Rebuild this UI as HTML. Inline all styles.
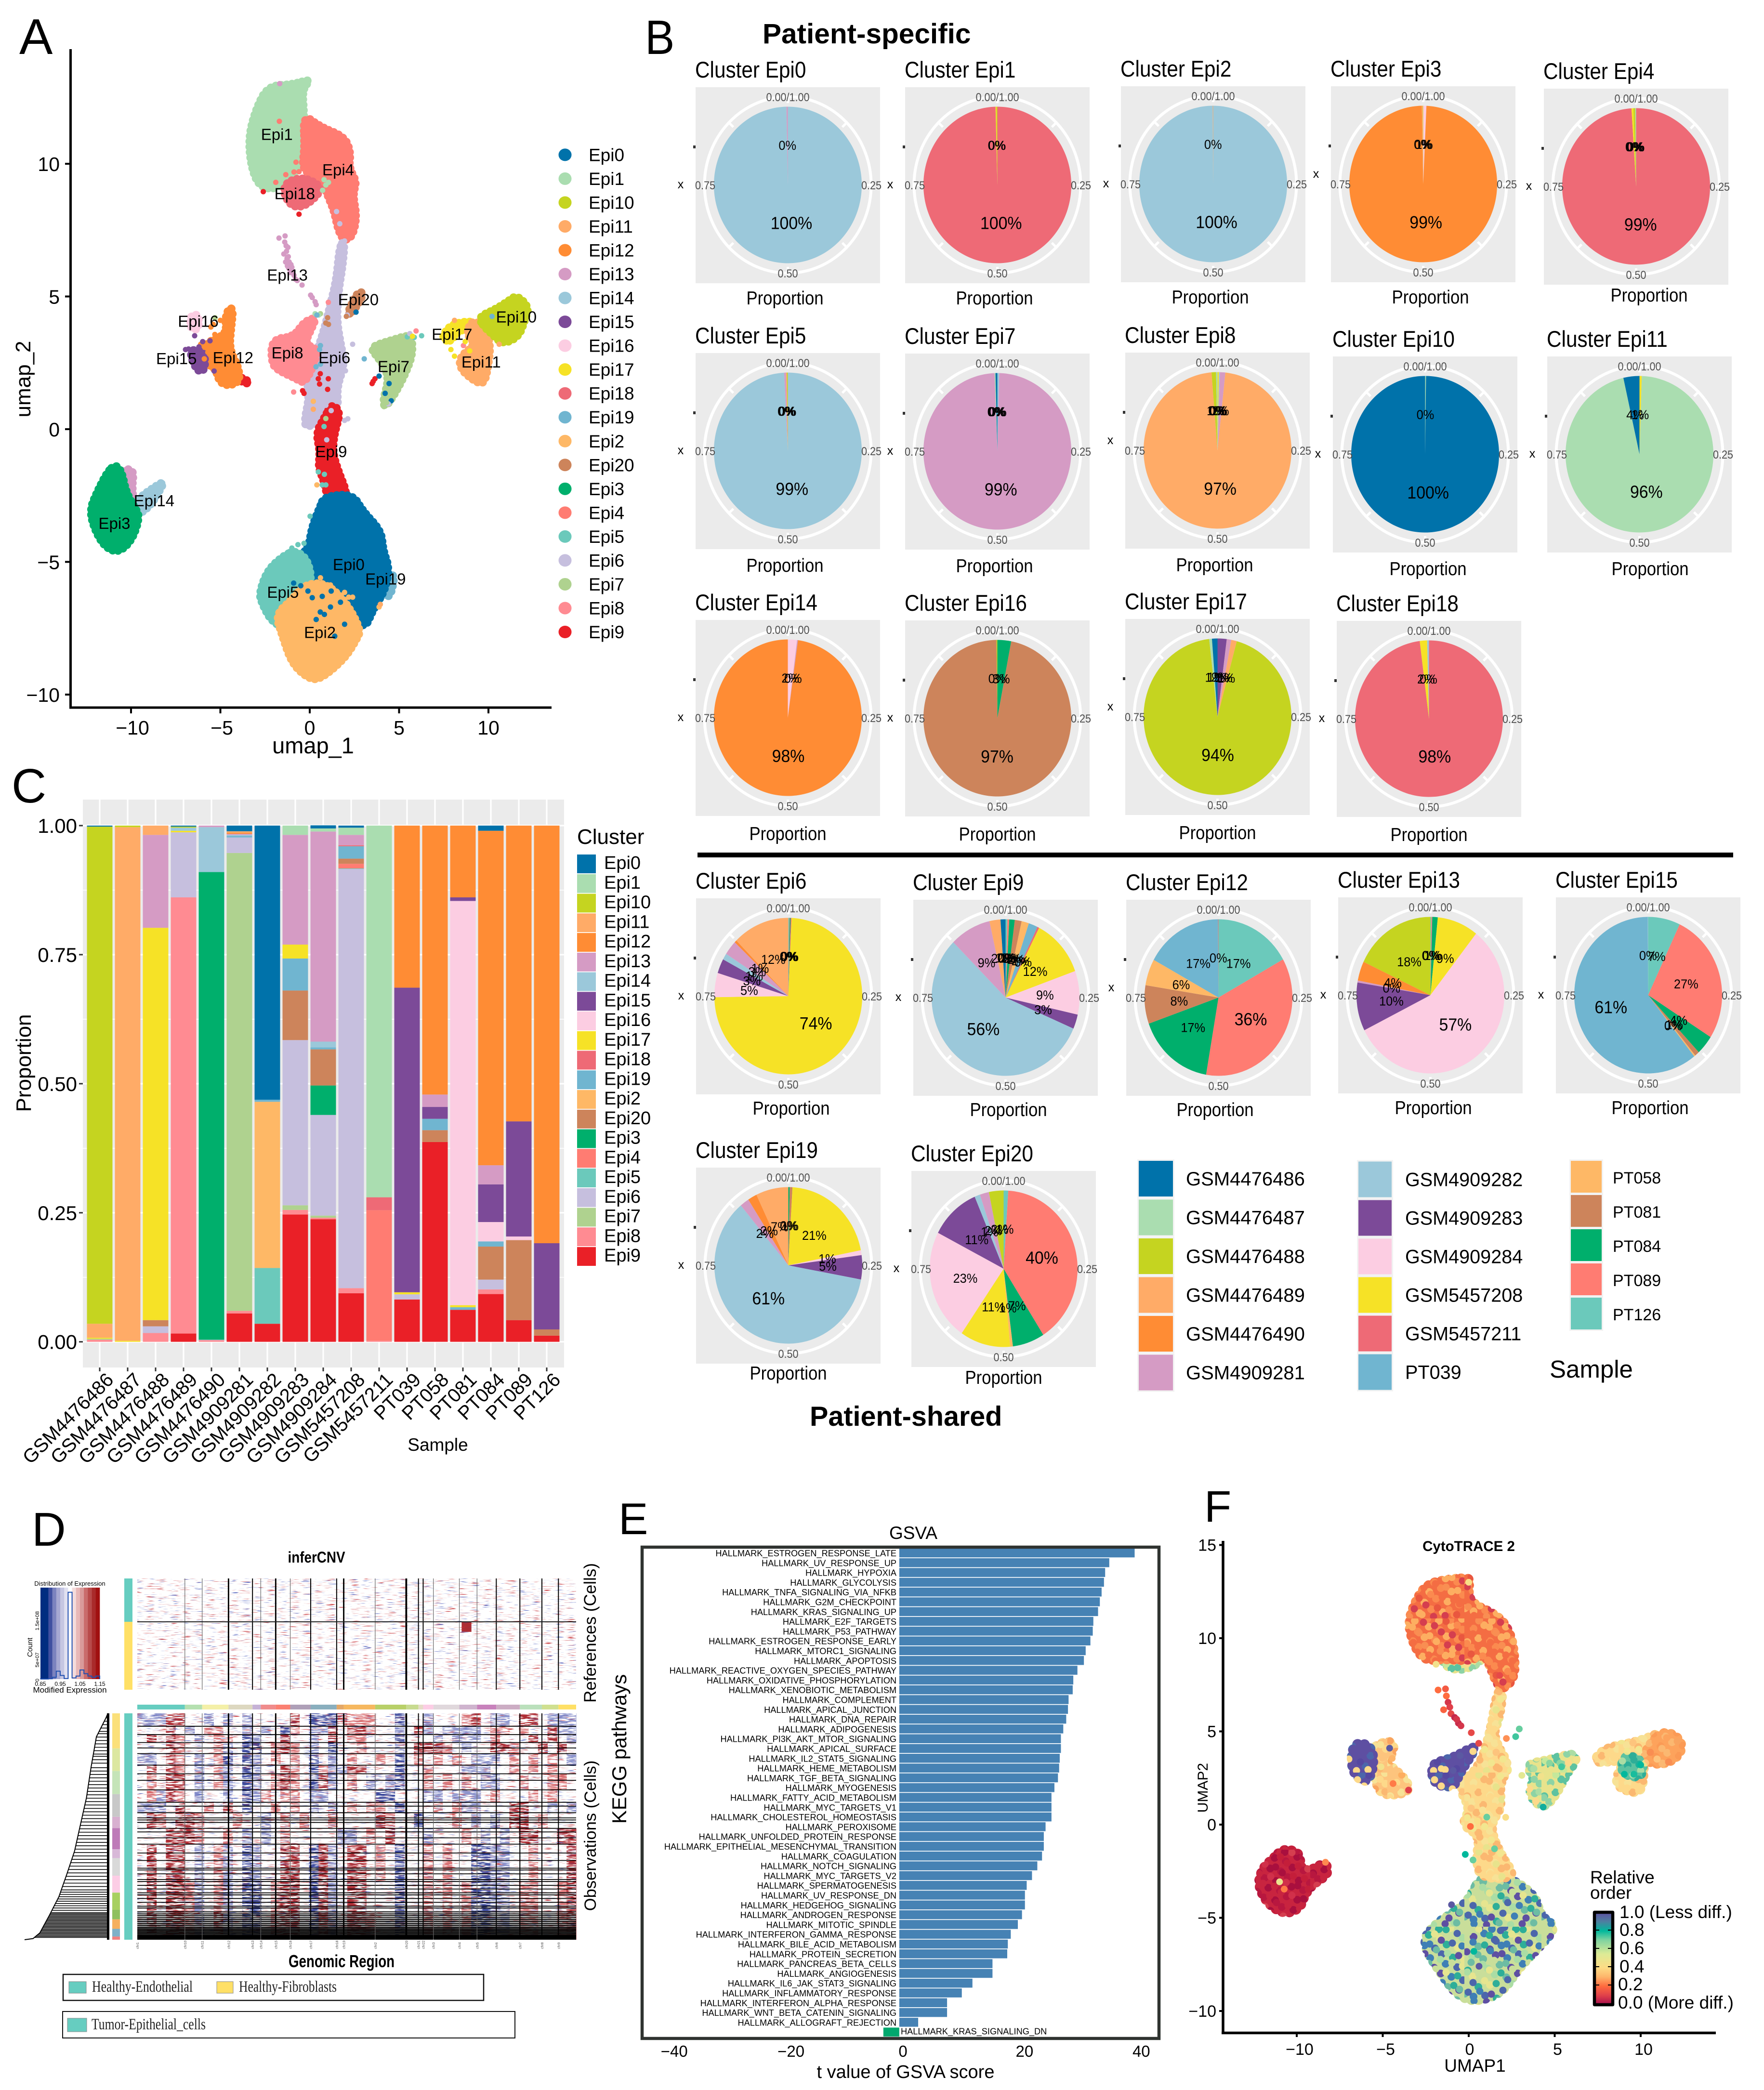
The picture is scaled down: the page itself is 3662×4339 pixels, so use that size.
<!DOCTYPE html>
<html lang="en">
<head>
<meta charset="utf-8">
<title>Single-cell epithelial figure</title>
<style>
html,body{margin:0;padding:0;background:#fff}
svg{display:block}
text{font-family:"Liberation Sans",sans-serif}
</style>
</head>
<body>
<svg id="fig" xmlns="http://www.w3.org/2000/svg" width="3662" height="4339" viewBox="0 0 3662 4339">
<defs>
<filter id="f-red" x="0" y="0" width="1" height="1" color-interpolation-filters="sRGB"><feTurbulence type="fractalNoise" baseFrequency="0.04 0.6" numOctaves="2" seed="4"/><feColorMatrix type="matrix" values="0 0 0 0 .78  0 0 0 0 .2  0 0 0 0 .22  6 0 0 0 -3.85"/></filter>
<filter id="f-blue" x="0" y="0" width="1" height="1" color-interpolation-filters="sRGB"><feTurbulence type="fractalNoise" baseFrequency="0.04 0.6" numOctaves="2" seed="19"/><feColorMatrix type="matrix" values="0 0 0 0 .25  0 0 0 0 .32  0 0 0 0 .72  6 0 0 0 -3.95"/></filter>
<filter id="f-white" x="0" y="0" width="1" height="1" color-interpolation-filters="sRGB"><feTurbulence type="fractalNoise" baseFrequency="0.05 0.45" numOctaves="2" seed="8"/><feColorMatrix type="matrix" values="0 0 0 0 1  0 0 0 0 1  0 0 0 0 1  9 0 0 0 -4.1"/></filter>
<linearGradient id="obs-dim" x1="0" y1="0" x2="0" y2="1"><stop offset="0" stop-color="#555" stop-opacity="0"/><stop offset="1" stop-color="#333" stop-opacity=".75"/></linearGradient>
<linearGradient id="spectral-bar" x1="0" y1="0" x2="0" y2="1">
<stop offset="0" stop-color="#5E4FA2"/><stop offset=".1" stop-color="#4E7FA0"/><stop offset=".2" stop-color="#00B89C"/><stop offset=".3" stop-color="#7FD3A0"/><stop offset=".45" stop-color="#DCEB96"/><stop offset=".6" stop-color="#FDDC85"/><stop offset=".7" stop-color="#FDB56B"/><stop offset=".8" stop-color="#FF6B3E"/><stop offset=".9" stop-color="#E0404A"/><stop offset="1" stop-color="#A50F4E"/>
</linearGradient>
</defs>
<rect x="0" y="0" width="3662" height="4339" fill="#ffffff"/>
<g id="panel-a"></g>
<g id="panel-b"></g>
<g id="panel-c"></g>
<g id="panel-d"></g>
<g id="panel-e"></g>
<g id="panel-f"></g>
</svg>
<script>
/* ---------- panel A data: cluster outlines and stray cells, in UMAP units ---------- */
const clusterNames = ['Epi0','Epi1','Epi10','Epi11','Epi12','Epi13','Epi14','Epi15','Epi16','Epi17','Epi18','Epi19','Epi2','Epi20','Epi3','Epi4','Epi5','Epi6','Epi7','Epi8','Epi9'];
const regionEpi1 = [[.14,13.2],[-.43,12.83],[-.32,11.9],[-.32,10.06],[-.66,9.78],[-1.45,9.4],[-1.9,9.04],[-2.81,9.13],[-3.27,9.87],[-3.42,10.98],[-3.04,12],[-2.36,12.93],[-1,12.98]];
const regionEpi4 = [[-.36,11.87],[.59,11.39],[1.95,11.02],[2.29,10.43],[2.18,9.87],[2.63,9.31],[2.4,8.85],[2.63,8.02],[2.4,7.28],[1.95,7.09],[1.61,7.46],[1.38,8.2],[1.04,8.76],[.82,9.13],[.14,9.5],[-.43,9.87],[-.27,10.6]];
const regionEpi18 = [[-1.34,9.31],[-.32,9.5],[.7,9.13],[.36,8.76],[-.32,8.39],[-1,8.39],[-1.45,8.85]];
const regionEpi6 = [[1.95,7.09],[1.84,6.17],[1.61,5.24],[1.5,4.13],[1.73,3.2],[1.95,2.46],[1.5,1.54],[1.61,.8],[.82,.43],[-.09,.06],[-.32,.24],[.02,1.35],[-.32,2.09],[.36,2.83],[.82,3.76],[1.16,4.69],[1.5,5.63],[1.68,6.91]];
const regionEpi8 = [[.36,4.22],[-.32,4.04],[-.88,3.48],[-2.13,3.39],[-2.13,2.46],[-1.68,2.19],[-.77,1.91],[-.32,1.72],[.14,2.28],[.48,3.02],[-.32,3.2],[.14,3.85]];
const regionEpi9 = [[1.27,.98],[1.72,.61],[1.38,-.13],[1.27,-.87],[1.61,-1.61],[2.06,-2.35],[1.95,-2.72],[1.04,-2.72],[.82,-1.98],[.48,-1.43],[.59,-.87],[.36,-.13],[.82,.43]];
const regionEpi9b = [[-4.4,2.09],[-3.38,1.81],[-3.45,1.69],[-4.29,1.96]];
const regionEpi0 = [[.82,-2.54],[2.4,-2.44],[2.97,-3.09],[4,-3.83],[4.1,-4.57],[4.45,-5.22],[4.22,-6.06],[3.54,-6.8],[3.08,-7.54],[2.4,-6.98],[1.72,-6.43],[.82,-5.87],[.14,-5.69],[-.77,-5.5],[-1,-4.96],[-.09,-4.57],[.14,-3.65],[.59,-2.91]];
const regionEpi5 = [[-.77,-4.57],[-.09,-4.94],[.14,-5.87],[-1,-6.61],[-1.22,-7.54],[-2.13,-7.26],[-2.7,-6.52],[-2.81,-6.15],[-2.36,-5.31],[-1.45,-4.76]];
const regionEpi2 = [[-.32,-5.87],[.82,-5.78],[1.95,-6.43],[2.86,-7.54],[2.63,-7.91],[1.95,-8.65],[.59,-9.43],[-.09,-9.39],[-1,-8.83],[-1.56,-7.72],[-1.9,-6.98],[-1,-6.43]];
const regionEpi3 = [[-10.86,-1.33],[-10.52,-1.61],[-10.29,-2.35],[-9.84,-2.91],[-9.5,-3.28],[-9.95,-4.2],[-10.75,-4.67],[-11.54,-4.39],[-12.11,-3.65],[-12.29,-3],[-11.88,-2.35],[-11.32,-1.61]];
const regionEpi13 = [[-10.52,-1.52],[-9.84,-1.52],[-9.95,-2.17],[-9.84,-2.91],[-10.25,-2.72],[-10.41,-2.06]];
const regionEpi14 = [[-9.84,-2.72],[-8.25,-1.98],[-8.19,-2.07],[-8.93,-2.91],[-9.73,-3.28]];
const regionEpi10 = [[9.43,4.22],[10.34,4.5],[11.02,4.78],[11.59,5.06],[12.27,4.59],[12.04,4.13],[11.7,3.48],[10.79,3.2],[10.23,3.57],[9.77,3.85]];
const regionEpi11 = [[9.09,4.13],[9.77,3.85],[10.11,3.2],[10,2.46],[9.77,1.69],[9.21,1.81],[8.41,2.28],[8.41,2.74],[9.32,3.2],[8.75,3.57]];
const regionEpi17 = [[7.35,3.39],[7.85,3.94],[9.09,4.09],[9.09,3.85],[8.19,3.67],[7.96,3.3]];
const regionEpi7 = [[3.42,3.11],[4.78,3.39],[5.69,3.57],[5.76,2.83],[5.35,2.09],[4.78,1.35],[4.22,.8],[4.1,1.07],[4.44,1.91],[4.1,2.46],[3.65,2.83]];
const regionEpi12 = [[-5.99,3.2],[-4.63,3.57],[-4.74,4.13],[-4.51,4.59],[-4.29,4.5],[-4.4,3.85],[-4.51,3.02],[-3.95,2.28],[-3.95,1.72],[-4.97,1.63],[-5.31,2.37],[-5.99,2.46]];
const regionEpi15 = [[-6.78,3.02],[-5.87,2.93],[-5.87,2.19],[-6.33,2.19]];
const regionEpi16 = [[-6.67,4.31],[-6.21,4.31],[-6.21,3.76],[-6.67,3.76]];
const regionEpi20 = [[2.06,4.31],[2.74,5.24],[3.02,5.06],[2.4,4.41]];
const regionEpi19 = [[3.99,-6.06],[4.78,-5.31],[4.56,-6.24],[4.22,-6.33]];
const umapRegions = [['Epi1',regionEpi1],['Epi4',regionEpi4],['Epi18',regionEpi18],['Epi13',regionEpi13],['Epi14',regionEpi14],['Epi3',regionEpi3],['Epi6',regionEpi6],['Epi8',regionEpi8],['Epi9',regionEpi9],['Epi9',regionEpi9b],['Epi19',regionEpi19],['Epi0',regionEpi0],['Epi5',regionEpi5],['Epi2',regionEpi2],['Epi7',regionEpi7],['Epi17',regionEpi17],['Epi11',regionEpi11],['Epi10',regionEpi10],['Epi12',regionEpi12],['Epi16',regionEpi16],['Epi15',regionEpi15],['Epi20',regionEpi20]];
const strayEpi13 = [[-1.72,7.2],[-1.38,7.28],[-1.32,6.91],[-1.27,6.44],[-1.18,6.07],[-.88,5.8],[-.43,5.43],[.14,4.96],[.36,4.69],[-1.68,13.02],[-1.45,6.6],[-1.05,6.2],[-.7,5.6],[-1.3,6.7],[-1.35,6.3],[-1.1,5.9],[-1.25,6.15],[.3,4.8],[-1.22,6.85],[-1.4,7.05],[-1.2,6.5],[-1,6.1],[-.95,5.95],[-.8,5.65],[.05,5.05],[-1.15,6.3]];
const strayEpi9 = [[1.04,1.9],[.48,1.9],[.59,2.09],[-.32,1.35],[-.4,1.45],[3.65,1.9],[3.49,1.72],[3.55,1.8],[.55,1.7],[1,1.5],[-2.6,8.95],[-.6,8.1]];
const strayEpi0 = [[3.88,2],[4.22,1.35],[4.44,1.72],[4.56,1.07],[2.59,4.41],[.59,-6.89],[.82,-6.98],[1.16,-6.7],[.14,-6.35],[.36,-7.17],[1.95,-7.35],[1.72,-6.52],[-.5,-5.9],[-.9,-5.8],[-.1,-6.1],[1.2,-6.1],[.7,-6.3],[1.4,-7.8]];
const strayEpi5 = [[5.46,3.48],[5.85,3.46],[6.26,3.52],[.82,-1.7],[.48,-1.61],[.02,-3.28],[-1,-4.48],[-.66,-4.35],[-.32,-4.3],[.9,-2.1],[.7,-2.1],[.8,.1],[-.4,-5.6],[-.1,-5.5]];
const strayEpi2 = [[1.16,-5.87],[2.18,-6.33],[2.4,-6.33],[1.95,-6.15],[3.88,-6.7],[2.6,-7.2],[.2,1.05],[.4,-2.1],[.1,-5.9],[.6,-5.6]];
const strayEpi6 = [[1.95,.33],[2.13,.39],[1.5,8.2],[1.68,7.74],[1.95,7.09],[1.75,6.2],[2.4,3.2],[2,2.2],[4.4,.95],[5.6,3.6],[.9,.9],[1.2,.7],[.95,-.4],[2.1,4.3]];
const strayEpi8 = [[1.04,4.78],[-.9,1.4],[-.6,2.05],[5.95,3.7],[8.6,3.15]];
const strayEpi4 = [[-.77,10.06],[-.88,9.69],[-1.34,9.59],[-.6,9.7],[-1.9,9.3],[-1.7,11.6],[2.3,9.1]];
const strayEpi12 = [[-5.53,3.85],[-5.31,3.57],[-5.08,3.2],[-4.63,3.39],[-5.53,3.3],[-6.1,3.2],[-5.42,2.28],[-5.7,2.9],[-5.9,2.65],[-5,4.1],[-5.4,3.95],[-5.1,2.95]];
const strayEpi15 = [[-6.44,3.52],[-5.58,3.33],[-5.99,3.3],[-5.35,2.19],[-6.78,3.02],[-6.95,3],[-6.2,3.1]];
const strayEpi7 = [[.6,4.35],[-5.3,4.2],[.9,.4],[4.3,1.0],[4.15,.85]];
const strayEpi1 = [[.9,9.2],[.8,9.4],[1.05,9.3],[.5,4.3],[.3,4.35],[.72,9.0]];
const strayEpi19 = [[.4,4.3],[.55,3],[.6,2.45],[.35,2.35],[3.05,2.65],[.6,3.15],[10.2,4.25]];
const strayEpi17 = [[8.1,2.75],[7.9,3],[8.95,2.95],[8.7,3.3],[5.75,3.5]];
const strayEpi11 = [[.2,.75],[8.1,4.1],[3.95,-6.6],[10.6,3.2]];
const strayEpi20 = [[1,4.2],[.9,4],[1.05,3.95],[2.05,4.25]];
const umapStrays = [['Epi13',strayEpi13],['Epi4',strayEpi4],['Epi9',strayEpi9],['Epi0',strayEpi0],['Epi5',strayEpi5],['Epi2',strayEpi2],['Epi6',strayEpi6],['Epi8',strayEpi8],['Epi12',strayEpi12],['Epi15',strayEpi15],['Epi7',strayEpi7],['Epi1',strayEpi1],['Epi19',strayEpi19],['Epi17',strayEpi17],['Epi11',strayEpi11],['Epi20',strayEpi20]];
const labelNames = ['Epi1','Epi4','Epi18','Epi13','Epi20','Epi16','Epi15','Epi12','Epi8','Epi6','Epi7','Epi17','Epi11','Epi10','Epi9','Epi14','Epi3','Epi0','Epi19','Epi5','Epi2'];
const labelX = [-1.84,1.59,-.84,-1.25,2.72,-6.24,-7.46,-4.29,-1.25,1.38,4.69,7.96,9.59,11.56,1.2,-8.71,-10.93,2.18,4.24,-1.5,.57];
const labelY = [11.1,9.76,8.87,5.8,4.87,4.06,2.65,2.69,2.87,2.69,2.35,3.57,2.52,4.22,-.85,-2.7,-3.56,-5.11,-5.65,-6.15,-7.67];
const umapXTicks = [-10,-5,0,5,10];
const umapYTicks = [10,5,0,-5,-10];

/* ---------- panel B data: share of each cluster per sample ---------- */
const sampleNames = ['GSM4476486','GSM4476487','GSM4476488','GSM4476489','GSM4476490','GSM4909281','GSM4909282','GSM4909283','GSM4909284','GSM5457208','GSM5457211','PT039','PT058','PT081','PT084','PT089','PT126'];
const pieEpi0 = [['GSM4909282',.997],['GSM4909281',.003]];
const pieEpi1 = [['GSM5457211',.996],['GSM5457208',.002],['GSM4476488',.002]];
const pieEpi2 = [['GSM4909282',.999],['GSM4476489',.001]];
const pieEpi3 = [['GSM4909284',.007],['GSM4476490',.99],['GSM4476489',.002],['GSM4476488',.001]];
const pieEpi4 = [['GSM5457211',.99],['GSM5457208',.004],['GSM4476488',.004],['GSM4476487',.002]];
const pieEpi5 = [['GSM4909282',.992],['GSM4909281',.004],['GSM4476489',.002],['GSM4476488',.002]];
const pieEpi7 = [['GSM4909282',.004],['GSM4909281',.99],['GSM4476487',.002],['GSM4476486',.004]];
const pieEpi8 = [['GSM5457208',.003],['GSM4909282',.002],['GSM4909281',.012],['GSM4476489',.97],['GSM4476488',.01],['GSM4476487',.003]];
const pieEpi10 = [['GSM4476487',.002],['GSM4476486',.998]];
const pieEpi11 = [['GSM5457208',.005],['GSM4476487',.96],['GSM4476486',.035]];
const pieEpi14 = [['GSM4909284',.02],['GSM4909281',.002],['GSM4476490',.978]];
const pieEpi16 = [['PT084',.03],['PT081',.968],['GSM4476488',.002]];
const pieEpi17 = [['GSM4909283',.02],['GSM4909281',.01],['GSM4476489',.012],['GSM4476488',.94],['GSM4476487',.006],['GSM4476486',.012]];
const pieEpi18 = [['GSM5457211',.98],['GSM5457208',.016],['GSM4909282',.004]];
const pieEpi6 = [['PT089',.001],['GSM5457211',.002],['PT126',.002],['PT084',.002],['GSM5457208',.74],['GSM4909284',.05],['GSM4909283',.03],['GSM4909282',.013],['GSM4909281',.03],['GSM4476490',.005],['GSM4476489',.124]];
const pieEpi9 = [['PT126',.004],['PT089',.004],['PT084',.012],['PT081',.015],['PT058',.016],['PT039',.02],['GSM5457211',.004],['GSM5457208',.12],['GSM4909284',.09],['GSM4909283',.03],['GSM4909282',.56],['GSM4909281',.09],['GSM4476489',.024],['GSM4476486',.011]];
const pieEpi12 = [['PT126',.17],['PT089',.36],['PT084',.17],['PT081',.08],['PT058',.055],['PT039',.17],['GSM5457211',.001]];
const pieEpi13 = [['PT126',.002],['PT089',.002],['PT084',.012],['GSM5457208',.09],['GSM4909284',.57],['GSM4909283',.10],['GSM4909281',.004],['GSM4476490',.04],['GSM4476488',.18]];
const pieEpi15 = [['PT126',.07],['PT089',.27],['PT084',.04],['PT081',.01],['PT058',.003],['PT039',.606],['GSM4909282',.001]];
const pieEpi19 = [['PT081',.006],['PT084',.003],['GSM5457208',.21],['GSM4909284',.01],['GSM4909283',.05],['GSM4909282',.61],['GSM4909281',.02],['GSM4476490',.02],['GSM4476489',.071]];
const pieEpi20 = [['PT126',.01],['PT089',.40],['PT084',.07],['PT058',.006],['GSM5457208',.11],['GSM4909284',.23],['GSM4909283',.11],['GSM4909282',.012],['GSM4909281',.02],['GSM4476488',.032]];

/* ---------- panel C data: cluster share inside each sample ---------- */
const barGSM4476486 = [['Epi0',.002],['Epi10',.963],['Epi11',.027],['Epi17',.002],['Epi7',.002],['Epi8',.004]];
const barGSM4476487 = [['Epi10',.003],['Epi11',.995],['Epi17',.002]];
const barGSM4476488 = [['Epi11',.018],['Epi13',.18],['Epi17',.76],['Epi20',.012],['Epi6',.013],['Epi8',.017]];
const barGSM4476489 = [['Epi0',.002],['Epi10',.002],['Epi17',.003],['Epi14',.006],['Epi6',.126],['Epi8',.845],['Epi9',.016]];
const barGSM4476490 = [['Epi13',.003],['Epi14',.087],['Epi3',.906],['Epi6',.001],['Epi8',.003]];
const barGSM4909281 = [['Epi0',.011],['Epi11',.003],['Epi13',.002],['Epi14',.002],['Epi12',.002],['Epi19',.003],['Epi6',.03],['Epi7',.887],['Epi8',.005],['Epi9',.055]];
const barGSM4909282 = [['Epi0',.531],['Epi19',.004],['Epi2',.322],['Epi5',.108],['Epi9',.035]];
const barGSM4909283 = [['Epi1',.018],['Epi13',.2125],['Epi17',.027],['Epi19',.062],['Epi20',.096],['Epi6',.32],['Epi7',.009],['Epi8',.009],['Epi9',.2465]];
const barGSM4909284 = [['Epi0',.006],['Epi1',.006],['Epi13',.407],['Epi14',.011],['Epi19',.004],['Epi20',.07],['Epi3',.057],['Epi6',.195],['Epi7',.004],['Epi8',.003],['Epi9',.2375]];
const barGSM5457208 = [['Epi0',.004],['Epi1',.014],['Epi13',.02],['Epi18',.002],['Epi19',.024],['Epi20',.01],['Epi4',.009],['Epi5',.001],['Epi6',.812],['Epi8',.01],['Epi9',.094]];
const barGSM5457211 = [['Epi1',.72],['Epi18',.025],['Epi4',.253],['Epi8',.002]];
const barPT039 = [['Epi12',.314],['Epi15',.59],['Epi17',.004],['Epi6',.01],['Epi9',.082]];
const barPT058 = [['Epi12',.521],['Epi13',.024],['Epi15',.023],['Epi19',.022],['Epi20',.023],['Epi9',.387]];
const barPT081 = [['Epi12',.139],['Epi15',.007],['Epi16',.783],['Epi17',.004],['Epi19',.005],['Epi9',.062]];
const barPT084 = [['Epi0',.01],['Epi12',.648],['Epi13',.037],['Epi15',.073],['Epi16',.0375],['Epi19',.01],['Epi20',.064],['Epi6',.019],['Epi8',.009],['Epi9',.0925]];
const barPT089 = [['Epi12',.573],['Epi15',.223],['Epi16',.007],['Epi20',.155],['Epi9',.042]];
const barPT126 = [['Epi12',.809],['Epi15',.167],['Epi20',.012],['Epi9',.012]];
const barRows = [barGSM4476486,barGSM4476487,barGSM4476488,barGSM4476489,barGSM4476490,barGSM4909281,barGSM4909282,barGSM4909283,barGSM4909284,barGSM5457208,barGSM5457211,barPT039,barPT058,barPT081,barPT084,barPT089,barPT126];
const proportionTicks = [0,.25,.5,.75,1];

/* ---------- panel D data: inferCNV ---------- */
const chrNames = ['chr1','chr10','chr11','chr12','chr13','chr14','chr15','chr16','chr17','chr18','chr19','chr2','chr20','chr21','chr22','chr3','chr4','chr5','chr6','chr7','chr8','chr9'];
const chrLengths = [121,44,67,61,21,38,37,52,66,18,80,79,31,12,26,66,45,49,60,56,42,45];
const chrLineWeights = [1,1,3,2,1,3,1,2,2,3,1,4,2,2,1,1,1,2,2,2,2];
const obsBandTops = [0,.057,.094,.129,.178,.229,.267,.338,.393,.439,.508,.578,.743,.877];
const obsBands = [
 'bbbRR..b.b.b....R.BBBRrrr..B..b...rR.bb.RR.bbb',
 '...R.b.rr..b.b.Br.bbR.RRr..b.Rb.bbbb.rr.r..Rbb',
 '.R.Rr.b.rr.Bb..R..b.R.rr...B...b.bbb.r...R.R.b',
 '...Rr...rb.BB.rRr.b.B..r...b.RRRr.b..RRr..R.R.',
 'bb.Rr.b.rB.Bb.r.r.B.b.r..r.B.r.r.r.bbb.r.r.r.b',
 '.R.Rr.b.rb.Bb..Rr.BrbbRR...B..r...bbb..r.r.r..',
 '.r.RR.b.rb.Bb.rRr.BRb.r.b.bB..r.r.r.bb..r..rr.',
 '.rbRr.b..b.Bbr.rr.bb.....BB...bb.bbb.r...r.r..',
 'bbb.R..r.R.B..r.r.b.b.r.rr.B...r.rbb...RR..b.b',
 '.Rr.RRr...r..b.r.r..r....Rr..B...r.b.b.RR.r...',
 '...RRRr..r.b.b.r.....bb.r.R...b...r.b.b.RR..RR',
 '.R.RR.b.rb.Bb..RR.BRb.RR.r.B..r.r..BBbb..r...R',
 '.R.RRrb.rb.BB.rRR.BRb.RR...B..r.r.rBBbb.rr..rR',
 '.R.RRrb.Rb.BB.rRR.BRb.RRr..B..r.r.rBBbb.rr..rR'
];
const refBandTops = [0,.39,.48];
const refBands = [
 '..............................................',
 '..................................R...........',
 '..............................................'
];
const obsBreaks = [.057,.094,.129,.153,.178,.229,.267,.296,.338,.393,.41,.439,.462,.471,.482,.508,.524,.55,.578,.617,.65,.684,.692,.709,.734,.743,.76,.776,.793,.802,.818,.835,.852,.86,.877,.886,.894,.903,.911,.919,.928,.936,.945,.95,.955,.96,.965,.97,.975,.98];
const obsClassEnds = [.155,.255,.357,.457,.507,.6,.64,.717,.792,.868,.91,.952,.986,1];
const dendroCurveFrac = [0,.02,.104,.239,.373,.49,.608,.709,.81,.894,.97,.995,1];
const dendroCurveDepth = [.983,.96,.847,.784,.73,.66,.59,.5,.405,.29,.18,.1,0];
const dendroRows = [.01,.02,.035,.05,.065,.08,.09,.105,.12,.135,.15,.165,.18,.19,.205,.22,.24,.255,.27,.285,.3,.315,.33,.345,.36,.375,.39,.405,.42,.435,.45,.465,.48,.495,.51,.525,.54,.555,.57,.585,.6,.615,.63,.645,.66,.675,.69,.705,.72,.735,.75,.765,.78,.79,.8,.81,.82,.83,.84,.85,.86,.87,.88,.885,.89,.895,.9,.905,.91,.915,.92,.925,.93,.935,.94,.945,.95,.955,.96,.965,.97,.975,.98,.985,.99];
const histCounts = [.02,.02,.06,.3,1.3,.6,.1,14.2,.2,.5,1.5,.9,.5,.3,.5];

/* ---------- panel E data: GSVA t values ---------- */
const gsvaPathways = ['HALLMARK_ESTROGEN_RESPONSE_LATE','HALLMARK_UV_RESPONSE_UP','HALLMARK_HYPOXIA','HALLMARK_GLYCOLYSIS','HALLMARK_TNFA_SIGNALING_VIA_NFKB','HALLMARK_G2M_CHECKPOINT','HALLMARK_KRAS_SIGNALING_UP','HALLMARK_E2F_TARGETS','HALLMARK_P53_PATHWAY','HALLMARK_ESTROGEN_RESPONSE_EARLY','HALLMARK_MTORC1_SIGNALING','HALLMARK_APOPTOSIS','HALLMARK_REACTIVE_OXYGEN_SPECIES_PATHWAY','HALLMARK_OXIDATIVE_PHOSPHORYLATION','HALLMARK_XENOBIOTIC_METABOLISM','HALLMARK_COMPLEMENT','HALLMARK_APICAL_JUNCTION','HALLMARK_DNA_REPAIR','HALLMARK_ADIPOGENESIS','HALLMARK_PI3K_AKT_MTOR_SIGNALING','HALLMARK_APICAL_SURFACE','HALLMARK_IL2_STAT5_SIGNALING','HALLMARK_HEME_METABOLISM','HALLMARK_TGF_BETA_SIGNALING','HALLMARK_MYOGENESIS','HALLMARK_FATTY_ACID_METABOLISM','HALLMARK_MYC_TARGETS_V1','HALLMARK_CHOLESTEROL_HOMEOSTASIS','HALLMARK_PEROXISOME','HALLMARK_UNFOLDED_PROTEIN_RESPONSE','HALLMARK_EPITHELIAL_MESENCHYMAL_TRANSITION','HALLMARK_COAGULATION','HALLMARK_NOTCH_SIGNALING','HALLMARK_MYC_TARGETS_V2','HALLMARK_SPERMATOGENESIS','HALLMARK_UV_RESPONSE_DN','HALLMARK_HEDGEHOG_SIGNALING','HALLMARK_ANDROGEN_RESPONSE','HALLMARK_MITOTIC_SPINDLE','HALLMARK_INTERFERON_GAMMA_RESPONSE','HALLMARK_BILE_ACID_METABOLISM','HALLMARK_PROTEIN_SECRETION','HALLMARK_PANCREAS_BETA_CELLS','HALLMARK_ANGIOGENESIS','HALLMARK_IL6_JAK_STAT3_SIGNALING','HALLMARK_INFLAMMATORY_RESPONSE','HALLMARK_INTERFERON_ALPHA_RESPONSE','HALLMARK_WNT_BETA_CATENIN_SIGNALING','HALLMARK_ALLOGRAFT_REJECTION','HALLMARK_KRAS_SIGNALING_DN'];
const gsvaValues = [39.9,35.6,34.9,34.7,34.3,34,33.7,32.9,32.8,32.4,31.6,31.3,30.2,29.5,29.4,28.7,28.6,28.3,27.8,27.4,27.4,27.2,27.1,26.9,26.3,25.8,25.8,25.8,24.8,24.5,24.5,24.2,23.4,22.5,21.6,21.3,21.3,20.8,20.1,18.9,18.4,18.3,15.8,15.8,12.4,10.6,8.1,8.1,3.2,-2.7];
const gsvaTicks = [-40,-20,0,20,40];

/* ---------- panel F data: CytoTRACE zones (UMAP units) and individually visible cells ---------- */
const zoneTop = [[.15,13.21],[-.06,12.8],[.04,11.88],[1.76,11.17],[2.4,10.25],[2.62,9.22],[2.66,8],[2.08,7.28],[1.65,7.59],[1.33,8.4],[.9,9.22],[.04,8.81],[-1.46,8.92],[-2.53,8.81],[-3.18,9.63],[-3.5,10.86],[-3.07,11.98],[-2.42,12.9],[-1.03,13.15]];
const zonePatch = [[-1.46,9.02],[.9,9.12],[.47,8.61],[-.6,8.3],[-1.46,8.61]];
const zoneStalk = [[1.97,7.28],[1.76,5.75],[1.33,4.72],[2.4,3.09],[1.76,2.27],[1.87,.84],[1.33,.22],[1.33,-.59],[1.97,-1.82],[2.73,-2.84],[.69,-2.84],[.47,-1.82],[.69,-.59],[-.39,.02],[.15,.84],[-.6,2.07],[.69,3.09],[1.33,5.13],[1.65,6.97]];
const zonePurple = [[-2.1,3.29],[-1.03,3.5],[.36,4.21],[.26,3.91],[-.6,2.68],[-.82,2.07],[-1.67,2.07],[-2.1,2.47]];
const zonePurpleLeft = [[-6.72,4.42],[-5.64,4.21],[-5.54,3.09],[-5.97,2.17],[-6.82,2.88]];
const zoneLeftWarm = [[-5.54,4.21],[-4.36,4.52],[-4.46,3.7],[-5.11,3.5],[-3.82,2.58],[-3.35,1.76],[-5,1.55],[-5.43,2.37],[-5.54,3.5]];
const zoneDeepRed = [[-10.79,-1.31],[-9.83,-1.51],[-9.83,-2.33],[-9.29,-2.54],[-8.33,-2.02],[-8.15,-2.64],[-9.18,-3.25],[-9.61,-3.87],[-9.83,-4.48],[-10.69,-4.79],[-11.65,-4.27],[-12.25,-3.25],[-11.97,-2.33],[-11.33,-1.82]];
const zoneBottom = [[.69,-2.84],[2.4,-2.84],[3.9,-3.87],[4.12,-4.89],[5.09,-5.5],[4.12,-6.52],[2.83,-7.75],[1.97,-8.98],[.47,-9.49],[-.6,-9.18],[-1.46,-8.16],[-2.75,-6.32],[-1.89,-5.3],[-.39,-4.48],[.26,-3.66]];
const zoneEpi7 = [[3.26,3.19],[4.98,3.5],[6.05,3.8],[6.27,3.5],[5.62,2.68],[5.09,1.66],[4.33,.84],[3.48,1.66],[3.91,2.58]];
const zoneEpi11 = [[7.23,3.39],[7.98,4.11],[9.91,4.42],[11.42,5.03],[10.13,3.5],[10.13,2.07],[9.7,1.66],[8.41,2.17],[9.16,3.5],[7.98,3.39]];
const zoneEpi10 = [[11.42,5.03],[12.38,4.52],[12.27,3.7],[11.2,3.19],[10.13,3.5],[10.6,4.4]];
const zoneTealCore = [[9.05,3.75],[10.13,3.4],[10.03,2.5],[8.85,2.78]];
const cellX = [-1.78,-1.35,-1.2,-1.03,-.6,.15,.58,-1.46,-.82,2.94,2.73,2.19,2.15,3.09,6.27,4.33,-11,-10.73,-8.33,0,-1.9,1.8,-1.3,-1.1,-.7,-.45,-4.4,-4.6,-3.5,-1.6,-.5,-.9,9.05,9.6,10,.1,1.05,.5,1.5,-.2,.25,-1,.3,.6,4.7,5.3,5.4,4.2,-5.1,-4.45];
const cellY = [7.22,7.28,6.56,5.95,5.44,4.93,4.36,6.16,5.75,5.13,4.72,4.62,.39,2.64,3.5,.94,-3.07,-3.46,-2.02,13,8.6,8,6.9,6.3,5.65,5.3,2.2,4.1,1.85,3,3.7,2.9,2.7,2.7,3.2,-.1,.4,.2,-1.3,-1.6,-1.9,-4.3,-6.8,-7.6,3.3,3.3,3.1,2.6,3.1,3.55];
const cellOrder = [.2,.16,.08,.12,.06,.12,.12,.18,.05,.72,.75,.25,.42,.52,.45,.82,.48,.22,.24,.42,.45,.12,.2,.1,.08,.08,.22,.98,.1,.4,.98,.98,.8,.78,.8,.2,.72,.42,.72,.8,.72,.98,.8,.98,.68,.68,.75,.45,.45,.3];
const textureDots = [[8,12],[30,5],[52,18],[75,8],[98,15],[122,6],[145,14],[18,32],[42,38],[66,30],[88,36],[112,28],[135,34],[155,40],[5,52],[28,58],[54,50],[78,56],[102,48],[125,55],[148,60],[14,74],[38,78],[62,70],[86,76],[110,68],[134,75],[156,82],[6,94],[30,98],[52,90],[76,96],[100,88],[122,95],[146,102],[18,116],[42,112],[66,118],[90,110],[114,116],[138,122],[8,136],[32,134],[56,140],[80,132],[104,138],[128,142],[150,130],[20,154],[46,156],[72,152],[96,156],[120,154],[144,152]];

/* ---------- styles ---------- */
const clusterColors = {Epi0:'#0072AA',Epi1:'#AADDB0',Epi10:'#C5D420',Epi11:'#FFAB67',Epi12:'#FF8C34',Epi13:'#D59BC4',Epi14:'#9BC8DA',Epi15:'#7C4A98',Epi16:'#FCCDE2',Epi17:'#F6E226',Epi18:'#EE6A76',Epi19:'#70B5D0',Epi2:'#FEB866',Epi20:'#CD845B',Epi3:'#00AF6C',Epi4:'#FF7C72',Epi5:'#6BC9BB',Epi6:'#C6BFDE',Epi7:'#AFD28F',Epi8:'#FF8B92',Epi9:'#EA2027'};
const sampleColors = {GSM4476486:'#0072AA',GSM4476487:'#AADDB0',GSM4476488:'#C5D420',GSM4476489:'#FFAB67',GSM4476490:'#FF8C34',GSM4909281:'#D59BC4',GSM4909282:'#9BC8DA',GSM4909283:'#7C4A98',GSM4909284:'#FCCDE2',GSM5457208:'#F6E226',GSM5457211:'#EE6A76',PT039:'#70B5D0',PT058:'#FEB866',PT081:'#CD845B',PT084:'#00AF6C',PT089:'#FF7C72',PT126:'#6BC9BB'};
const chrColors = ['#66CDC0','#B5E0B0','#F4F0A8','#DDD8C0','#C6B2D6','#F08C8C','#FB8072','#AFA0B8','#8AAFBE','#E4A868','#F6B860','#B8D068','#C8DB90','#E6DCC8','#FCCDE5','#E0D8DC','#CFB4CE','#C882BC','#CCADC4','#BBE0BC','#D0E090','#FFE066'];
const obsClassColors = ['#FBE07A','#DCE7A0','#C5E4B8','#C8C8C8','#D8B0D0','#BE7BB8','#D8B8D8','#D9D9D9','#FCCDE5','#A8D060','#8FC060','#F5B060','#7FB0C8','#F08080'];
const histColors = ['#002D80','#002D80','#3F4FA0','#7B82BE','#A6A8D2','#C5C6E2','#E0E0F0','#FFFFFF','#F4DCDC','#E8B8B8','#D99A9A','#C96B6B','#B84A4A','#A92A2A','#A01010'];
const cnvColors = {r:'#D8696B',R:'#A01018',b:'#7E86C6',B:'#24338F'};
const palettes = {
 top:['#F46D43','#FB8A4F','#E9573F','#D53E4F','#FDAE61','#F98E52'],
 deep:['#C8243F','#B8173F','#D53E4F','#C41E3A','#A90F3E','#D1304A'],
 yellow:['#FDD98A','#F7E296','#FDC47D','#F2E68F','#FBB871','#E8E38C'],
 mix:['#C9DE9A','#5E4FA2','#2EAE98','#ABDDA4','#3F7FB5','#E6E58F','#6DBCA3','#4C66AB'],
 green:['#E8E38C','#8DD3A5','#ABDDA4','#FDD98A','#5DC2A0','#C5E89A'],
 purple:['#5E4FA2','#5E4FA2','#5648A0','#FDD98A','#4C66AB','#5E4FA2'],
 warm:['#FDC47D','#FDD98A','#FBB871','#F9A45F','#F7E296','#FDAE61'],
 orange:['#FDA35C','#FBB871','#F98E52','#FDC47D','#FB9A55','#F9A45F'],
 teal:['#5DC2A0','#1FB099','#8DD3A5','#E8E38C','#2EAE98','#ABDDA4']
};
const fZones = [[zoneDeepRed,'deep'],[zoneBottom,'mix'],[zoneStalk,'yellow'],[zonePatch,'green'],[zoneTop,'top'],[zoneLeftWarm,'warm'],[zonePurpleLeft,'purple'],[zonePurple,'purple'],[zoneEpi7,'green'],[zoneEpi11,'yellow'],[zoneEpi10,'orange'],[zoneTealCore,'teal']];

/* ---------- helpers ---------- */
const NS = 'http://www.w3.org/2000/svg';
function make(parent, tag, attrs) {
  const e = document.createElementNS(NS, tag);
  for (const k in attrs) e.setAttribute(k, attrs[k]);
  parent.appendChild(e);
  return e;
}
function text(parent, str, x, y, size, name, o) {
  o = o || {};
  const t = make(parent, 'text', {x:0, y:0, 'font-size':size, fill:o.fill || '#000', 'text-anchor':o.anchor || 'start'});
  if (o.weight) t.setAttribute('font-weight', o.weight);
  if (o.family) t.setAttribute('style', 'font-family:' + o.family);
  if (o.len) { t.setAttribute('textLength', o.len); t.setAttribute('lengthAdjust', 'spacingAndGlyphs'); }
  t.setAttribute('transform', 'translate(' + x + ' ' + y + ') rotate(' + (o.rot || 0) + ') scale(' + (o.sx || 1) + ' 1)');
  t.textContent = str;
  
  
  return t;
}
function box(parent, x, y, w, h, fill, name) {
  const r = make(parent, 'rect', {x:x, y:y, width:w, height:h, fill:fill});
  
  
  return r;
}
function line(parent, x1, y1, x2, y2, stroke, width, name) {
  const l = make(parent, 'line', {x1:x1, y1:y1, x2:x2, y2:y2, stroke:stroke, 'stroke-width':width});
  
  
  return l;
}
/* closed smooth outline through the midpoints of an outline's edges */
function blobPath(points, fxs, fys) {
  const pts = points.map(function (p) { return [fxs(p[0]), fys(p[1])]; });
  const n = pts.length;
  function mid(i) { const a = pts[i % n], b = pts[(i + 1) % n]; return [(a[0] + b[0]) / 2, (a[1] + b[1]) / 2]; }
  let d = 'M' + mid(n - 1).join(' ');
  for (let i = 0; i < n; i++) {
    const m = mid(i);
    d += 'Q' + pts[i][0] + ' ' + pts[i][1] + ' ' + m[0] + ' ' + m[1];
  }
  return d + 'Z';
}
function blob(parent, points, fxs, fys, paint, bump, name) {
  const d = blobPath(points, fxs, fys);
  const solid = make(parent, 'path', {d:d, fill:paint, stroke:paint, 'stroke-width':bump * .75, 'stroke-linejoin':'round'});
  
  
  const edge = make(parent, 'path', {d:d, fill:'none', stroke:paint, 'stroke-width':bump * 1.25, 'stroke-linecap':'round', 'stroke-dasharray':'0 ' + bump * .8});
  
  
}
const panelA = document.getElementById('panel-a');
const panelB = document.getElementById('panel-b');
const panelC = document.getElementById('panel-c');
const panelD = document.getElementById('panel-d');
const panelE = document.getElementById('panel-e');
const panelF = document.getElementById('panel-f');
const MINUS = '\u2212';
function signed(v) { return v < 0 ? MINUS + Math.abs(v) : String(v); }

/* ---------- texture patterns ---------- */
const defsEl = document.querySelector('defs');
Object.keys(palettes).forEach(function (key) {
  const pal = palettes[key];
  const p = make(defsEl, 'pattern', {id:'tex-' + key, patternUnits:'userSpaceOnUse', width:160, height:160});
  make(p, 'rect', {x:0, y:0, width:160, height:160, fill:pal[0]});
  textureDots.forEach(function (d, i) {
    make(p, 'circle', {cx:(d[0] + 11) % 160, cy:(d[1] + 9) % 160, r:8, fill:pal[(i * 3 + 1) % pal.length]});
  });
  textureDots.forEach(function (d, i) {
    make(p, 'circle', {cx:d[0], cy:d[1], r:7.5, fill:pal[(i * 5 + (i >> 2)) % pal.length]});
  });
});

/* ---------- panel letters ---------- */
text(panelA, 'A', 40, 112, 104, 'panel-letter-a');
text(panelB, 'B', 1339, 112, 100, 'panel-letter-b', {sx:.92});
text(panelC, 'C', 24, 1666, 100, 'panel-letter-c');
text(panelD, 'D', 66, 3209, 98, 'panel-letter-d');
text(panelE, 'E', 1284, 3185, 92, 'panel-letter-e');
text(panelF, 'F', 2500, 3159, 92, 'panel-letter-f');

/* ---------- panel A ---------- */
function ax(v) { return 643 + v * 37.1; }
function ay(v) { return 891 - v * 55.1; }
umapRegions.forEach(function (r) {
  blob(panelA, r[1], ax, ay, clusterColors[r[0]], 14, 'umap-region-' + r[0].toLowerCase());
});
umapStrays.forEach(function (r) {
  r[1].forEach(function (p) {
    const c = make(panelA, 'circle', {cx:ax(p[0]), cy:ay(p[1]), r:5.6, fill:clusterColors[r[0]]});
    
    
  });
});
line(panelA, 146.5, 102, 146.5, 1471.5, '#000', 5, 'umap-y-axis');
line(panelA, 144, 1469, 1145, 1469, '#000', 5, 'umap-x-axis');
umapXTicks.forEach(function (v) {
  line(panelA, ax(v), 1469, ax(v), 1481, '#000', 4, 'umap-x-tick');
  text(panelA, signed(v), ax(v) + (v < 0 ? 3 : 0), 1525, 41, 'umap-x-tick-label', {anchor:'middle'});
});
umapYTicks.forEach(function (v) {
  line(panelA, 135, ay(v), 146.5, ay(v), '#000', 4, 'umap-y-tick');
  text(panelA, signed(v), 124, ay(v) + 15, 41, 'umap-y-tick-label', {anchor:'end'});
});
text(panelA, 'umap_1', 650, 1564, 47, 'umap-x-axis-title', {anchor:'middle'});
text(panelA, 'umap_2', 63, 787, 44, 'umap-y-axis-title', {anchor:'middle', rot:-90});
labelNames.forEach(function (n, i) {
  text(panelA, n, ax(labelX[i]), ay(labelY[i]) + 11, 33, 'cluster-label-' + n.toLowerCase(), {anchor:'middle'});
});
clusterNames.forEach(function (n, i) {
  const y = 321.4 + i * 49.53;
  const d = make(panelA, 'ellipse', {cx:1173, cy:y, rx:13.5, ry:13, fill:clusterColors[n]});
  
  
  text(panelA, n, 1222, y + 13, 37, 'legend-label-' + n.toLowerCase());
});

/* ---------- panel B ---------- */
const pieLayout = [
 ['Epi0',pieEpi0,1444,181,-6,0,0],['Epi1',pieEpi1,1879,181,-6,0,0],['Epi2',pieEpi2,2327,179,-6,0,0],['Epi3',pieEpi3,2763,179,15,0,-20],['Epi4',pieEpi4,3205,184,27,-9,0],
 ['Epi5',pieEpi5,1444,733,-6,3,0],['Epi7',pieEpi7,1879,734,-6,3,0],['Epi8',pieEpi8,2336,732,-6,3,-20],['Epi10',pieEpi10,2767,740,6,3,0],['Epi11',pieEpi11,3212,740,22,3,0],
 ['Epi14',pieEpi14,1444,1287,0,6,0],['Epi16',pieEpi16,1879,1288,0,6,0],['Epi17',pieEpi17,2336,1285,0,6,-20],['Epi18',pieEpi18,2775,1289,0,6,0],
 ['Epi6',pieEpi6,1445,1865,6,-2,0],['Epi9',pieEpi9,1896,1868,6,-2,0],['Epi12',pieEpi12,2338,1868,-7,-2,-20],['Epi13',pieEpi13,2778,1863,6,-1,0],['Epi15',pieEpi15,3230,1863,4,-1,0],
 ['Epi19',pieEpi19,1445,2424,0,-11,0],['Epi20',pieEpi20,1892,2431,0,-9,0]
];
function piePoint(cx, cy, rx, ry, f) {
  const a = f * 2 * Math.PI;
  return [cx + rx * Math.sin(a), cy - ry * Math.cos(a)];
}
pieLayout.forEach(function (lay) {
  const name = lay[0], rows = lay[1].slice(), px = lay[2], py = lay[3];
  const low = name.toLowerCase();
  const g = make(panelB, 'g', {});
  
  
  box(g, px, py, 383, 407, '#EBEBEB', 'pie-background');
  const cx = px + 191.5, cy = py + 203;
  const ring = make(g, 'ellipse', {cx:cx, cy:cy, rx:173, ry:183, fill:'none', stroke:'#fff', 'stroke-width':6});
  
  
  [.125,.375,.625,.875,0,.25,.5,.75].forEach(function (f) {
    const a = piePoint(cx, cy, 160, 170, f), b = piePoint(cx, cy, 174, 184, f);
    line(g, a[0], a[1], b[0], b[1], '#fff', 5, 'pie-grid-tick');
  });
  rows.sort(function (a, b) { return sampleNames.indexOf(b[0]) - sampleNames.indexOf(a[0]); });
  const total = rows.reduce(function (s, r) { return s + r[1]; }, 0);
  let cum = 0;
  const labels = [];
  rows.forEach(function (r) {
    const f0 = cum / total, f1 = (cum + r[1]) / total;
    cum += r[1];
    const a = piePoint(cx, cy, 153.5, 162.5, f0), b = piePoint(cx, cy, 153.5, 162.5, f1);
    const large = f1 - f0 > .5 ? 1 : 0;
    const s = make(g, 'path', {d:'M' + cx + ' ' + cy + 'L' + a[0] + ' ' + a[1] + 'A153.5 162.5 0 ' + large + ' 1 ' + b[0] + ' ' + b[1] + 'Z', fill:sampleColors[r[0]]});
    
    
    labels.push([Math.round(r[1] * 100) + '%', (f0 + f1) / 2, r[1]]);
  });
  labels.forEach(function (l) {
    const p = piePoint(cx, cy, 82, 82, l[2] > .9 ? l[1] - .013 : l[1]);
    const big = l[2] >= .3;
    text(g, l[0], p[0], p[1] + (big ? 10 : 9), big ? 36 : 27, 'pie-percent-label', {anchor:'middle', sx:.94});
  });
  text(g, '0.00/1.00', cx, py + 29, 24, 'pie-tick-top', {anchor:'middle', fill:'#4D4D4D', sx:.9});
  text(g, '0.25', px + 365, cy + 9, 24, 'pie-tick-right', {anchor:'middle', fill:'#4D4D4D', sx:.9});
  text(g, '0.50', cx, py + 395, 24, 'pie-tick-bottom', {anchor:'middle', fill:'#4D4D4D', sx:.9});
  text(g, '0.75', px + 20, cy + 9, 24, 'pie-tick-left', {anchor:'middle', fill:'#4D4D4D', sx:.9});
  text(g, 'x', px - 31, cy + 7 + lay[6], 25, 'pie-x-label', {anchor:'middle'});
  box(g, px - 5, py + 121, 5, 6, '#333', 'pie-axis-tick');
  text(g, 'Cluster ' + name, px - 1, py - 20, 47, 'pie-title', {sx:.9});
  text(g, 'Proportion', cx + lay[4], py + 451 + lay[5], 39, 'pie-axis-title', {anchor:'middle', sx:.89});
});
text(panelB, 'Patient-specific', 1583, 90, 58.5, 'patient-specific-heading', {weight:'bold'});
text(panelB, 'Patient-shared', 1681, 2960, 57.5, 'patient-shared-heading', {weight:'bold'});
box(panelB, 1448, 1770, 2150, 10, '#000', 'group-divider-line');
const sampleLegend = [
 [sampleNames.slice(0,6), 2364, 2462, 2410, 80.5, 71, 74, 40],
 [sampleNames.slice(6,12), 2820, 2917, 2411.5, 80, 69, 74, 39.6],
 [sampleNames.slice(12), 3261, 3348, 2410, 71, 64, 66, 34]
];
sampleLegend.forEach(function (col) {
  col[0].forEach(function (n, i) {
    const y = col[3] + i * col[4];
    box(panelB, col[1] - 3, y - 3, col[5] + 6, col[6] + 6, '#F2F2F2', 'sample-legend-key');
    box(panelB, col[1], y, col[5], col[6], sampleColors[n], 'sample-legend-swatch-' + n.toLowerCase());
    text(panelB, n, col[2], y + col[6] / 2 + 14, col[7], 'sample-legend-label-' + n.toLowerCase());
  });
});
text(panelB, 'Sample', 3217, 2860, 51, 'sample-legend-title');

/* ---------- panel C ---------- */
function cx(i) { return 207 + i * 58; }
function cy(v) { return 2785.7 - v * 1071.7; }
box(panelC, 172, 1660, 999, 1179, '#EBEBEB', 'bars-plot-background');
[.125,.375,.625,.875].forEach(function (v) { line(panelC, 172, cy(v), 1171, cy(v), '#fff', 1.6, 'bars-minor-gridline'); });
proportionTicks.forEach(function (v) { line(panelC, 172, cy(v), 1171, cy(v), '#fff', 3.2, 'bars-major-gridline'); });
sampleNames.forEach(function (n, i) { line(panelC, cx(i), 1660, cx(i), 2839, '#fff', 3.2, 'bars-vertical-gridline'); });
barRows.forEach(function (rows, i) {
  let cum = 0;
  clusterNames.slice().reverse().forEach(function (c) {
    const hit = rows.filter(function (r) { return r[0] === c; })[0];
    if (!hit) return;
    const y1 = cy(cum + hit[1]), y0 = cy(cum);
    box(panelC, cx(i) - 26.5, y1, 53, y0 - y1, clusterColors[c], 'bar-' + sampleNames[i].toLowerCase() + '-' + c.toLowerCase());
    cum += hit[1];
  });
});
proportionTicks.forEach(function (v) {
  line(panelC, 164, cy(v), 172, cy(v), '#333', 3, 'bars-y-tick');
  text(panelC, v.toFixed(2), 160, cy(v) + 15, 42, 'bars-y-tick-label', {anchor:'end'});
});
sampleNames.forEach(function (n, i) {
  line(panelC, cx(i), 2839, cx(i), 2847, '#333', 3, 'bars-x-tick');
  text(panelC, n, cx(i) + 31, 2867, 40, 'bars-x-tick-label', {anchor:'end', rot:-45});
});
text(panelC, 'Sample', 909, 3012, 37, 'bars-x-axis-title', {anchor:'middle'});
text(panelC, 'Proportion', 64, 2207, 44, 'bars-y-axis-title', {anchor:'middle', rot:-90});
text(panelC, 'Cluster', 1198, 1752, 44, 'cluster-legend-title');
clusterNames.forEach(function (n, i) {
  const y = 1774 + i * 40.75;
  box(panelC, 1198, y, 39, 39, clusterColors[n], 'cluster-legend-swatch-' + n.toLowerCase());
  text(panelC, n, 1254, y + 30, 38, 'cluster-legend-label-' + n.toLowerCase());
});

/* ---------- panel D ---------- */
const HX = 285, HW = 911;
const chrTotal = chrLengths.reduce(function (a, b) { return a + b; }, 0);
const chrEdges = [0];
chrLengths.forEach(function (l, i) { chrEdges.push(chrEdges[i] + l); });
function hx(v) { return HX + v / chrTotal * HW; }
function drawCnvCells(parent, tops, rows, y0, h) {
  rows.forEach(function (s, r) {
    const t = y0 + tops[r] * h;
    const b = y0 + (r + 1 < tops.length ? tops[r + 1] : 1) * h;
    for (let c = 0; c < s.length; c++) {
      const code = s[c];
      if (code === '.') continue;
      const cell = box(parent, HX + c * HW / 46, t, HW / 46 + .5, b - t, cnvColors[code], 'cnv-cell');
      cell.setAttribute('opacity', '.88');
    }
  });
}
function chrDividers(parent, y0, y1) {
  chrEdges.slice(1, -1).forEach(function (e, i) {
    const w = chrLineWeights[i];
    line(parent, hx(e), y0, hx(e), y1, w === 1 ? '#666' : '#000', w === 1 ? 1.2 : w * .9 + .2, 'chromosome-divider');
  });
}
const REF_Y = 3277, REF_H = 231, OBS_Y = 3557, OBS_H = 470;
box(panelD, HX, REF_Y, HW, REF_H, '#fff', 'reference-heatmap-background');
drawCnvCells(panelD, refBandTops, refBands, REF_Y, REF_H);
const noiseRefRed = box(panelD, HX, REF_Y, HW, REF_H, '#000', 'reference-gain-texture');
noiseRefRed.setAttribute('filter', 'url(#f-red)');
const noiseRefBlue = box(panelD, HX, REF_Y, HW, REF_H, '#000', 'reference-loss-texture');
noiseRefBlue.setAttribute('filter', 'url(#f-blue)');
chrDividers(panelD, REF_Y, REF_Y + REF_H);
line(panelD, HX, 3367, HX + HW, 3367, '#222', 2, 'reference-group-separator');
box(panelD, 258, 3277, 17, 90, '#66CDC0', 'reference-bar-endothelial');
box(panelD, 258, 3367, 17, 141, '#FFE066', 'reference-bar-fibroblast');
chrNames.forEach(function (n, i) {
  box(panelD, hx(chrEdges[i]), 3539, hx(chrEdges[i + 1]) - hx(chrEdges[i]), 10, chrColors[i], 'chromosome-stripe-' + n);
  text(panelD, n, hx(chrEdges[i]) + 3, 4046, 7, 'chromosome-label-' + n, {rot:-90, fill:'#444'});
});
box(panelD, HX, OBS_Y, HW, OBS_H, '#fff', 'observation-heatmap-background');
drawCnvCells(panelD, obsBandTops, obsBands, OBS_Y, OBS_H);
const noiseWhite = box(panelD, HX, OBS_Y, HW, OBS_H, '#000', 'observation-break-texture');
noiseWhite.setAttribute('filter', 'url(#f-white)');
const noiseObsRed = box(panelD, HX, OBS_Y, HW, OBS_H, '#000', 'observation-gain-texture');
noiseObsRed.setAttribute('filter', 'url(#f-red)');
const noiseObsBlue = box(panelD, HX, OBS_Y, HW, OBS_H, '#000', 'observation-loss-texture');
noiseObsBlue.setAttribute('filter', 'url(#f-blue)');
box(panelD, HX, OBS_Y + .86 * OBS_H, HW, .12 * OBS_H, 'url(#obs-dim)', 'observation-dense-shade');
obsBreaks.forEach(function (f) { line(panelD, HX, OBS_Y + f * OBS_H, HX + HW, OBS_Y + f * OBS_H, '#000', 1.8, 'observation-cluster-break'); });
box(panelD, HX, OBS_Y + .98 * OBS_H, HW, .02 * OBS_H, '#000', 'observation-bottom-band');
chrDividers(panelD, OBS_Y, OBS_Y + OBS_H);
box(panelD, 258, OBS_Y, 17, OBS_H, '#66CDC0', 'observation-bar-tumor');
obsClassEnds.forEach(function (f, i) {
  const s = i ? obsClassEnds[i - 1] : 0;
  box(panelD, 233, OBS_Y + s * OBS_H, 16, (f - s) * OBS_H, obsClassColors[i], 'observation-class-segment');
});
function dendroX(depth) { return 51 + depth * 176; }
function dendroDepthAt(f) {
  for (let i = 1; i < dendroCurveFrac.length; i++) {
    if (f <= dendroCurveFrac[i]) {
      const t = (f - dendroCurveFrac[i - 1]) / (dendroCurveFrac[i] - dendroCurveFrac[i - 1]);
      return dendroCurveDepth[i - 1] + t * (dendroCurveDepth[i] - dendroCurveDepth[i - 1]);
    }
  }
  return 0;
}
dendroRows.forEach(function (f) {
  const y = OBS_Y + f * OBS_H;
  line(panelD, dendroX(dendroDepthAt(f)), y, 227, y, '#000', 1.6, 'dendrogram-branch');
});
const dendroSpine = make(panelD, 'polyline', {fill:'none', stroke:'#000', 'stroke-width':2, points:dendroCurveFrac.map(function (f, i) { return dendroX(dendroCurveDepth[i]) + ',' + (OBS_Y + f * OBS_H); }).join(' ')});


box(panelD, 222, OBS_Y, 5, OBS_H, '#000', 'dendrogram-leaf-edge');
function hbx(i) { return 84 + i * 123 / 15; }
function hby(v) { return 3486 - v * 12.7; }
histColors.forEach(function (c, i) { box(panelD, hbx(i), 3296, 123 / 15 + .3, 190, c, 'histogram-color-band'); });
let histPath = 'M' + hbx(0) + ' ' + hby(0);
histCounts.forEach(function (v, i) { histPath += 'L' + hbx(i) + ' ' + hby(v) + 'L' + hbx(i + 1) + ' ' + hby(v); });
histPath += 'L' + hbx(15) + ' ' + hby(0);
const histLine = make(panelD, 'path', {d:histPath, fill:'none', stroke:'#1F4FB0', 'stroke-width':2});


text(panelD, 'Distribution of Expression', 145, 3292, 13, 'histogram-title', {anchor:'middle'});
text(panelD, 'Count', 67, 3420, 15, 'histogram-y-title', {anchor:'middle', rot:-90});
text(panelD, '1.5e+08', 81, 3365, 11, 'histogram-y-tick', {anchor:'middle', rot:-90});
text(panelD, '5e+07', 81, 3446, 11, 'histogram-y-tick', {anchor:'middle', rot:-90});
text(panelD, '0', 81, 3488, 11, 'histogram-y-tick', {anchor:'middle', rot:-90});
['0.85','0.95','1.05','1.15'].forEach(function (s, i) { text(panelD, s, 84 + i * 41, 3500, 12, 'histogram-x-tick', {anchor:'middle'}); });
text(panelD, 'Modified Expression', 145, 3514, 17, 'histogram-x-title', {anchor:'middle'});
text(panelD, 'inferCNV', 657, 3244, 32, 'infercnv-title', {anchor:'middle', weight:'bold', sx:.87});
text(panelD, 'Genomic Region', 709, 4084, 36, 'genomic-region-axis-title', {anchor:'middle', weight:'bold', sx:.77});
text(panelD, 'References (Cells)', 1237, 3390, 35, 'references-axis-title', {anchor:'middle', rot:-90});
text(panelD, 'Observations (Cells)', 1237, 3811, 34.5, 'observations-axis-title', {anchor:'middle', rot:-90});
const legendBox1 = box(panelD, 131, 4099, 873, 54, '#fff', 'cell-type-legend-reference');
legendBox1.setAttribute('stroke', '#111');
legendBox1.setAttribute('stroke-width', '2.5');
const legendBox2 = box(panelD, 130, 4176, 939, 55, '#fff', 'cell-type-legend-observation');
legendBox2.setAttribute('stroke', '#111');
legendBox2.setAttribute('stroke-width', '2');
const sw1 = box(panelD, 143, 4114, 36, 24, '#66CDC0', 'legend-swatch-healthy-endothelial');
sw1.setAttribute('stroke', '#888');
const sw2 = box(panelD, 450, 4114, 34, 24, '#FFE066', 'legend-swatch-healthy-fibroblasts');
sw2.setAttribute('stroke', '#888');
const sw3 = box(panelD, 140, 4190, 40, 28, '#66CDC0', 'legend-swatch-tumor-epithelial');
sw3.setAttribute('stroke', '#888');
const SERIF = '"Liberation Serif",serif';
text(panelD, 'Healthy-Endothelial', 191, 4135, 33, 'legend-label-healthy-endothelial', {family:SERIF, len:209, fill:'#222'});
text(panelD, 'Healthy-Fibroblasts', 496, 4135, 33, 'legend-label-healthy-fibroblasts', {family:SERIF, len:203, fill:'#222'});
text(panelD, 'Tumor-Epithelial_cells', 190, 4213, 33, 'legend-label-tumor-epithelial', {family:SERIF, len:237, fill:'#222'});

/* ---------- panel E ---------- */
function ex(v) { return 1866.9 + v * 12.245; }
function ey(i) { return 3224 + i * 20.3; }
gsvaValues.forEach(function (v, i) {
  const x0 = ex(Math.min(v, 0)), x1 = ex(Math.max(v, 0));
  box(panelE, x0, ey(i) - 9.3, x1 - x0, 18.6, v < 0 ? '#00A86E' : '#4682B4', 'gsva-bar-' + gsvaPathways[i].toLowerCase().replace(/_/g, '-'));
  if (v < 0) text(panelE, gsvaPathways[i], 1870, ey(i) + 5, 18.2, 'gsva-pathway-label');
  else text(panelE, gsvaPathways[i], 1861, ey(i) + 7, 18.2, 'gsva-pathway-label', {anchor:'end'});
});
const frame = box(panelE, 1333, 3212, 1073, 1020, 'none', 'gsva-plot-frame');
frame.setAttribute('stroke', '#2F3330');
frame.setAttribute('stroke-width', '6.5');
gsvaTicks.forEach(function (v) {
  const x = 1884.5 + v * 12.12 - (v === 0 ? 10 : 0);
  text(panelE, signed(v), x, 4270, 33, 'gsva-x-tick-label', {anchor:'middle'});
});
text(panelE, 'GSVA', 1896, 3195, 37, 'gsva-title', {anchor:'middle'});
text(panelE, 't value of GSVA score', 1880, 4314, 38, 'gsva-x-axis-title', {anchor:'middle'});
text(panelE, 'KEGG pathways', 1300, 3631, 42, 'gsva-y-axis-title', {anchor:'middle', rot:-90});

/* ---------- panel F ---------- */
function fx(v) { return 3049 + v * 35.7; }
function fy(v) { return 3788 - v * 38.7; }
const orderStops = [[0,[165,15,78]],[.1,[224,64,74]],[.2,[255,107,62]],[.3,[253,181,107]],[.4,[253,220,133]],[.55,[220,235,150]],[.7,[127,211,160]],[.8,[0,184,156]],[.9,[78,127,160]],[1,[94,79,162]]];
function orderColor(v) {
  for (let i = 1; i < orderStops.length; i++) {
    if (v <= orderStops[i][0]) {
      const a = orderStops[i - 1], b = orderStops[i], t = (v - a[0]) / (b[0] - a[0]);
      return 'rgb(' + a[1].map(function (c, k) { return Math.round(c + t * (b[1][k] - c)); }).join(',') + ')';
    }
  }
  return '#5E4FA2';
}
fZones.forEach(function (z) {
  blob(panelF, z[0], fx, fy, 'url(#tex-' + z[1] + ')', 18, 'cytotrace-zone-' + z[1]);
});
cellX.forEach(function (x, i) {
  const c = make(panelF, 'circle', {cx:fx(x), cy:fy(cellY[i]), r:7, fill:orderColor(cellOrder[i])});
  
  
});
line(panelF, 2539, 3199, 2539, 4223, '#000', 5.5, 'cytotrace-y-axis');
line(panelF, 2536, 4220.5, 3562, 4220.5, '#000', 5.5, 'cytotrace-x-axis');
[15,10,5,0,-5,-10].forEach(function (v) {
  line(panelF, 2531, fy(v), 2539, fy(v), '#000', 4, 'cytotrace-y-tick');
  text(panelF, signed(v), 2525, fy(v) + 12, 34, 'cytotrace-y-tick-label', {anchor:'end'});
});
[-10,-5,0,5,10].forEach(function (v) {
  line(panelF, fx(v), 4220, fx(v), 4229, '#000', 4, 'cytotrace-x-tick');
  text(panelF, signed(v), fx(v) + (v ? 6 : 2), 4266, 34, 'cytotrace-x-tick-label', {anchor:'middle'});
});
text(panelF, 'UMAP1', 3062, 4301, 37, 'cytotrace-x-axis-title', {anchor:'middle'});
text(panelF, 'UMAP2', 2507, 3711.6, 30, 'cytotrace-y-axis-title', {anchor:'middle', rot:-90});
text(panelF, 'CytoTRACE 2', 3049, 3220, 29.5, 'cytotrace-title', {anchor:'middle', weight:'bold'});
text(panelF, 'Relative', 3301, 3910, 37, 'relative-order-title-line-1');
text(panelF, 'order', 3301, 3942, 37, 'relative-order-title-line-2');
const cbar = box(panelF, 3310, 3970, 38, 192, 'url(#spectral-bar)', 'relative-order-colorbar');
cbar.setAttribute('stroke', '#000');
cbar.setAttribute('stroke-width', '6.5');
cbar.setAttribute('stroke-linejoin', 'round');
[4007,4045,4083,4121].forEach(function (y) {
  line(panelF, 3313, y, 3320, y, '#000', 2, 'colorbar-tick');
  line(panelF, 3338, y, 3345, y, '#000', 2, 'colorbar-tick');
});
[['1.0 (Less diff.)',3362,3982],['0.8',3362,4019],['0.6',3362,4057],['0.4',3362,4095],['0.2',3359,4132],['0.0 (More diff.)',3359,4170]].forEach(function (l) {
  text(panelF, l[0], l[1], l[2], 37, 'colorbar-label');
});
</script>
</body>
</html>
